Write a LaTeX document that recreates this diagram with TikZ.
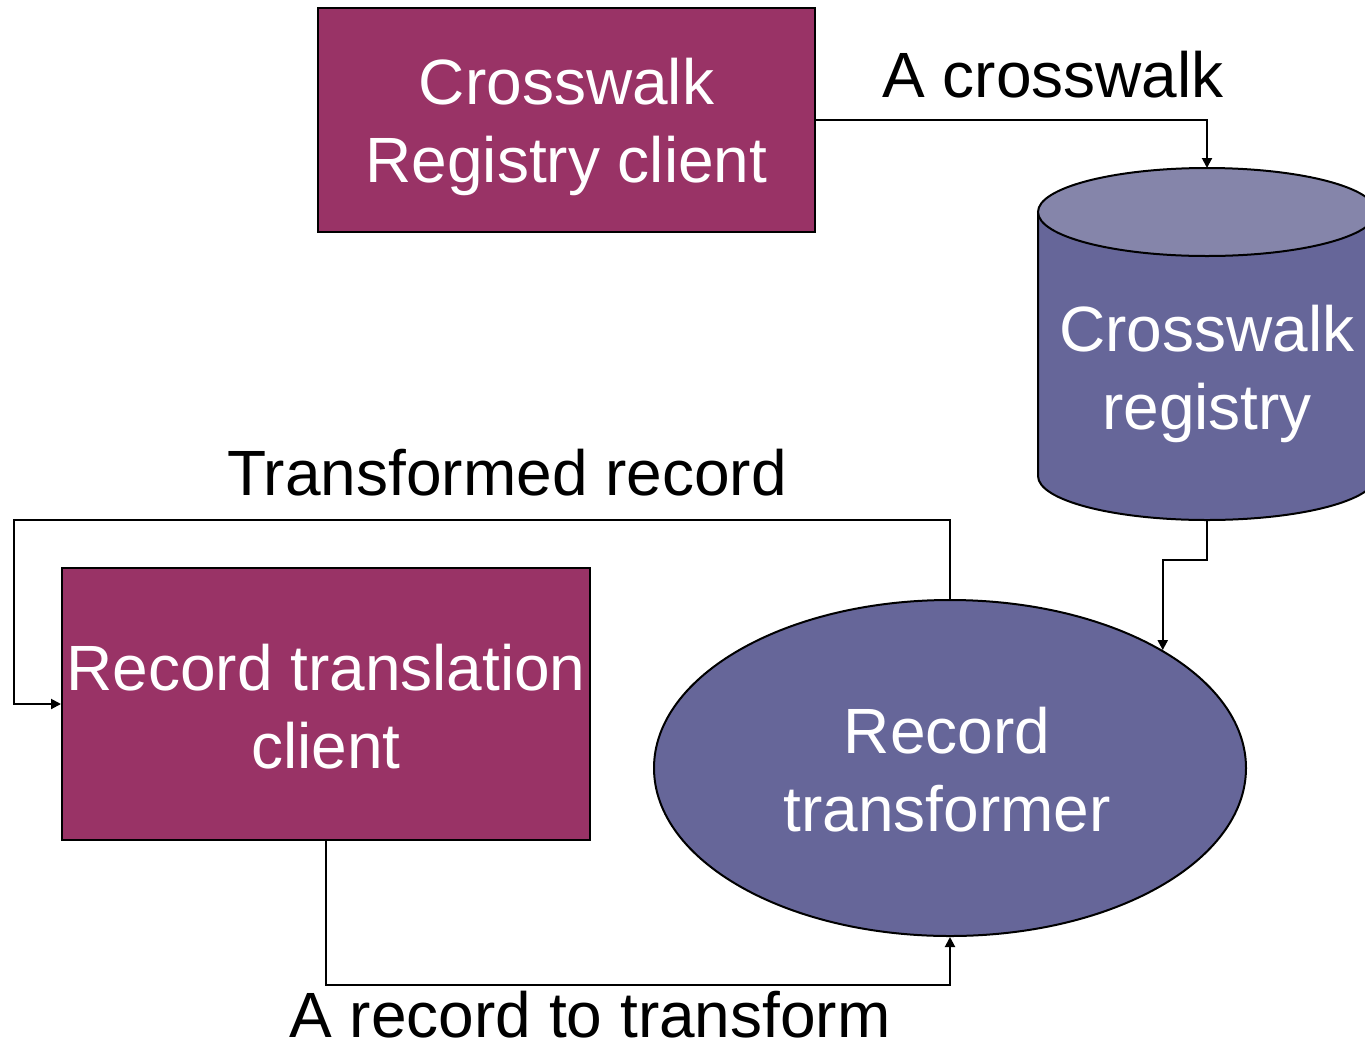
\documentclass[tikz,border=0pt]{standalone}
\usepackage{fontspec}
\setmainfont{Liberation Sans}
\usetikzlibrary{shapes.geometric,arrows.meta}
\definecolor{plum}{HTML}{993366}
\definecolor{slate}{HTML}{666699}
\definecolor{slatetop}{HTML}{8585AA}
\begin{document}
\begin{tikzpicture}[x=1pt,y=-1pt,
  bigtext/.style={font=\fontsize{64}{78}\selectfont},
  wtext/.style={text=white,bigtext,align=center,inner sep=0pt},
  rbox/.style={draw=black,line width=2pt,fill=plum,wtext},
  ebox/.style={ellipse,draw=black,line width=2pt,fill=slate,wtext},
  conn/.style={line width=2pt,-{Triangle[length=10pt,width=10pt]}},
  lbl/.style={bigtext,anchor=base,inner sep=0pt}]
\useasboundingbox (0,0) rectangle (1365,1042);
\clip (0,0) rectangle (1365,1042);
% nodes
\node[rbox,minimum width=497pt,minimum height=224pt] (rc) at (566.5,120) {};
\node[wtext] (rctext) at (566.5,127) {Crosswalk\\Registry client};
\node[rbox,minimum width=528pt,minimum height=272pt] (rt) at (326,704) {};
\node[wtext] (rttext) at (326,707) {Record translation\\client};
\node[ebox,minimum width=592pt,minimum height=336pt] (ell) at (950,768) {};
\node[wtext] (elltext) at (947,770) {Record\\transformer};
% cylinder
\draw[line width=2pt,fill=slate] (1038,212) -- (1038,476) arc[start angle=180,end angle=360,x radius=169,y radius=-44] -- (1376,212) -- cycle;
\draw[line width=2pt,fill=slatetop] (1207,212) ellipse[x radius=169,y radius=44];
\coordinate (cyltop) at (1207,168);
\coordinate (cylbot) at (1207,520);
\node[wtext] (cyl) at (1207,374) {Crosswalk\\registry};
% connectors
\draw[conn] (rc.east) -| (cyltop);
\draw[conn] (cylbot) -- ++(0,40) -| (ell.29.4);
\draw[conn] (ell.north) |- (14,520) |- (rt.west);
\draw[conn] (rt.south) -- ++(0,144) -| (ell.south);
% labels
\node[lbl] (l1) at (1053,97) {A crosswalk};
\node[lbl] (l2) at (507,495) {Transformed record};
\node[lbl] (l3) at (590,1037) {A record to transform};
\end{tikzpicture}
\end{document}
